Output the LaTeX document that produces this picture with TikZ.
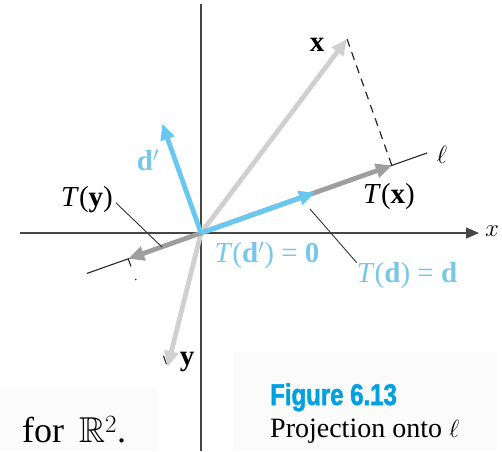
\documentclass[tikz,border=0pt]{standalone}
\usepackage{amssymb}
\usepackage{fontspec}
\setmainfont{Liberation Serif}
\newfontfamily\figfont[FakeStretch=0.8,FakeBold=1.6]{Liberation Sans}
\usetikzlibrary{arrows.meta,calc}
\definecolor{vblue}{RGB}{105,200,240}
\definecolor{lblue}{RGB}{120,198,234}
\definecolor{fblue}{RGB}{0,160,225}
\definecolor{lgray}{RGB}{208,208,208}
\definecolor{mgray}{RGB}{158,158,158}
\definecolor{axisc}{RGB}{70,70,70}
\begin{document}
\begin{tikzpicture}[x=1pt,y=-1pt,
  vec/.style={line width=4.8pt,-{Triangle[length=16pt,width=14pt]}},
  axisline/.style={line width=1.2pt,draw=axisc},
  thinline/.style={line width=1.1pt,draw=black!85},
  leader/.style={line width=0.9pt,draw=black!80},
  dashline/.style={line width=1.2pt,draw=black!85,dash pattern=on 8pt off 6pt},
  lab/.style={font=\fontsize{29}{32}\selectfont,inner sep=0pt},
  panel/.style={fill=black!1.5,draw=none}]
\useasboundingbox (0,0) rectangle (502,451);
% faint background panels
\fill[panel] (0,388) rectangle (158,451);
\fill[panel] (233,352) rectangle (497,451);
% coordinates
\coordinate (O) at (201,233);
\coordinate (X) at (347,39);
\coordinate (TX) at (391.8,165.4);
\coordinate (D) at (315,192.6);
\coordinate (Dp) at (162.3,123.7);
\coordinate (Y) at (167.5,367);
\coordinate (TY) at (128.2,258.8);
\coordinate (L1) at (427.2,152.9);
\coordinate (L2) at (87,273.4);
\coordinate (AxL) at (20,233);
\coordinate (AxR) at (479,233);
\coordinate (AyT) at (201,4);
\coordinate (AyB) at (201,451);
% axes
\draw[axisline] (AyT) -- (AyB);
\draw[axisline,-{Triangle[length=13pt,width=11pt]}] (AxL) -- (AxR);
% line l
\draw[thinline] (L2) -- (L1);
% perpendicular foot from y (visible fragments)
\draw[thinline] (TY) -- ($(TY)!8pt!(Y)$);
\fill[black!85] ($(TY)!22pt!(Y)$) circle (0.9pt);
\draw[thinline] ($(Y)!12pt!(TY)$) -- ($(Y)!3pt!(TY)$);
% perpendicular from x
\draw[dashline] (X) -- (TX);
% vectors
\draw[vec,draw=lgray,fill=lgray] (O) -- (X);
\draw[vec,draw=lgray,fill=lgray] (O) -- (Y);
\draw[vec,draw=mgray,fill=mgray] (O) -- (TX);
\draw[vec,draw=mgray,fill=mgray] (O) -- (TY);
\draw[vec,draw=vblue,fill=vblue] (O) -- (D);
\draw[vec,draw=vblue,fill=vblue] (O) -- (Dp);
% labels
\node[lab] (xL) at (317,45) {\textbf{x}};
\node[lab,text=lblue] (dpL) at (148,160) {\textbf{d}$'$};
\node[lab] (TyL) at (87,200) {\textit{T}(\textbf{y})};
\node[lab] (TxL) at (389,197) {\textit{T}(\textbf{x})};
\node[lab] (ellL) at (442,155) {$\ell$};
\node[lab] (axX) at (492,231) {$x$};
\node[lab] (yL) at (187,362) {\textbf{y}};
\node[lab,text=lblue] (TdpL) at (267,255) {\textit{T}(\textbf{d}$'$) = \textbf{0}};
\node[lab,text=lblue] (TdL) at (407,276) {\textit{T}(\textbf{d}) = \textbf{d}};
% leaders
\coordinate (TyE) at (162,247);
\coordinate (TdS) at (310,209);
\draw[leader,shorten <=4pt] (TyL.east) -- (TyE);
\draw[leader] (TdS) -- (TdL.north west);
% caption
\node[inner sep=0pt,anchor=base west,text=fblue,font=\figfont\bfseries\fontsize{30}{32}\selectfont] (fig) at (270,405) {Figure 6.13};
\node[inner sep=0pt,anchor=base west,font=\fontsize{28}{30}\selectfont] (proj) at (270,437) {Projection onto $\ell$};
\node[inner sep=0pt,anchor=base west,font=\fontsize{36}{40}\selectfont] (forR) at (22,442) {for\, $\mathbb{R}^2$.};
\end{tikzpicture}
\end{document}
